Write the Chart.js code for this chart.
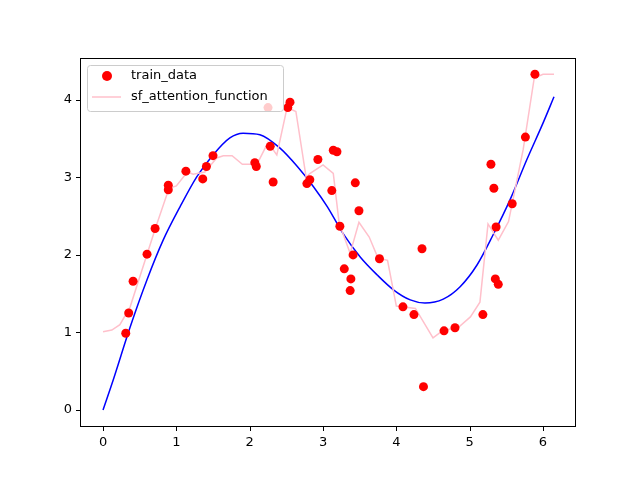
<!DOCTYPE html><html><head><script src="https://cdn.jsdelivr.net/npm/chart.js@4"></script>
<style>body{margin:0;background:#fff}#w{width:640px;height:480px}</style></head><body><div id="w"><canvas id="c"></canvas></div>
<script>
const trainX=[0.31,0.35,0.41,0.60,0.71,0.89,0.89,1.13,1.36,1.41,1.50,2.07,2.09,2.25,2.28,2.32,2.52,2.55,2.78,2.82,2.93,3.12,3.14,3.19,3.23,3.29,3.37,3.38,3.41,3.44,3.49,3.77,4.09,4.24,4.35,4.37,4.65,4.80,5.18,5.29,5.33,5.35,5.36,5.39,5.58,5.76,5.89];
const trainY=[0.99,1.25,1.66,2.01,2.34,2.90,2.84,3.08,2.98,3.14,3.28,3.19,3.14,3.90,3.40,2.94,3.90,3.97,2.92,2.97,3.23,2.83,3.35,3.33,2.37,1.82,1.54,1.69,2.00,2.93,2.57,1.95,1.33,1.23,2.08,0.30,1.02,1.06,1.23,3.17,2.86,1.69,2.36,1.62,2.66,3.52,4.33];
const sfX=[0,0.12,0.23,0.37,0.72,0.90,1.0,1.15,1.23,1.39,1.55,1.64,1.76,1.90,2.10,2.25,2.37,2.51,2.63,2.77,2.82,3.0,3.14,3.22,3.37,3.49,3.63,3.75,3.88,4.0,4.26,4.50,4.64,4.84,5.01,5.14,5.25,5.39,5.53,5.73,5.88,6.0,6.15];
const sfY=[1.01,1.03,1.10,1.33,2.36,2.86,2.89,3.07,3.04,3.07,3.25,3.28,3.28,3.17,3.17,3.45,3.29,3.90,3.85,3.0,3.05,3.16,3.05,2.41,2.02,2.42,2.23,1.96,1.93,1.34,1.31,0.93,1.03,1.06,1.20,1.39,2.40,2.19,2.43,3.36,4.28,4.33,4.33];
const fitX=[0,0.14,0.37,0.6,0.82,1.05,1.28,1.50,1.73,1.91,2.14,2.41,2.65,2.87,3.06,3.27,3.51,3.74,3.96,4.19,4.39,4.64,4.87,5.10,5.32,5.55,5.78,6.0,6.15];
const fitY=[0,0.39,1.07,1.68,2.19,2.62,3.01,3.29,3.51,3.57,3.55,3.38,3.14,2.88,2.62,2.28,1.97,1.74,1.55,1.42,1.38,1.43,1.59,1.87,2.26,2.71,3.23,3.70,4.04];
const xTicks=[0,1,2,3,4,5,6], yTicks=[0,1,2,3,4];
const pts=(xs,ys)=>xs.map((x,i)=>({x,y:ys[i]}));
const legendPlugin={id:'lg',afterDraw(ch){const c=ch.ctx;c.save();
c.fillStyle='rgba(255,255,255,0.8)';c.strokeStyle='#ccc';c.lineWidth=1;
c.beginPath();c.roundRect(87.5,65.5,196,46,3);c.fill();c.stroke();
c.fillStyle='red';c.beginPath();c.arc(107,76,5,0,Math.PI*2);c.fill();
c.strokeStyle='pink';c.lineWidth=1.5;c.beginPath();c.moveTo(92,97);c.lineTo(121,97);c.stroke();
c.fillStyle='#000';c.font='13px "DejaVu Sans"';c.textBaseline='middle';
c.fillText('train_data',131,76);c.fillText('sf_attention_function',131,97);c.restore();}};
const boxPlugin={id:'box',afterDraw(ch){const a=ch.chartArea,c=ch.ctx;c.save();c.strokeStyle='#000';c.lineWidth=1;
c.strokeRect(Math.round(a.left)+0.5,Math.round(a.top)+0.5,Math.round(a.right-a.left)-1,Math.round(a.bottom-a.top)-1);
c.beginPath();
xTicks.forEach(v=>{const p=Math.round(ch.scales.x.getPixelForValue(v))+0.5;c.moveTo(p,a.bottom);c.lineTo(p,a.bottom+4);});
yTicks.forEach(v=>{const p=Math.round(ch.scales.y.getPixelForValue(v))+0.5;c.moveTo(a.left,p);c.lineTo(a.left-4,p);});
c.stroke();c.restore();}};
const tk={color:'#000',font:{family:'DejaVu Sans',size:13},maxRotation:0};
new Chart(document.getElementById('c'),{type:'scatter',data:{datasets:[
{type:'line',data:pts(fitX,fitY),borderColor:'blue',borderWidth:1.5,pointRadius:0,cubicInterpolationMode:'monotone',order:3},
{type:'line',data:pts(sfX,sfY),borderColor:'pink',borderWidth:1.5,pointRadius:0,tension:0,order:2},
{data:pts(trainX,trainY),backgroundColor:'red',borderWidth:0,pointRadius:4.5,order:1}]},
options:{responsive:true,maintainAspectRatio:false,animation:false,devicePixelRatio:1,
layout:{padding:{top:58,right:64,left:0,bottom:0}},
plugins:{legend:{display:false},tooltip:{enabled:false}},
scales:{x:{type:'linear',min:-0.314,max:6.45,afterBuildTicks:a=>{a.ticks=xTicks.map(v=>({value:v}))},
grid:{display:false,drawTicks:false},border:{display:false},
ticks:{...tk,padding:8},afterFit:a=>{a.height=53}},
y:{min:-0.22,max:4.54,afterBuildTicks:a=>{a.ticks=yTicks.map(v=>({value:v}))},
grid:{display:false,drawTicks:false},border:{display:false},
ticks:{...tk,padding:8},afterFit:a=>{a.width=80}}}},
plugins:[legendPlugin,boxPlugin]});
</script></body></html>
